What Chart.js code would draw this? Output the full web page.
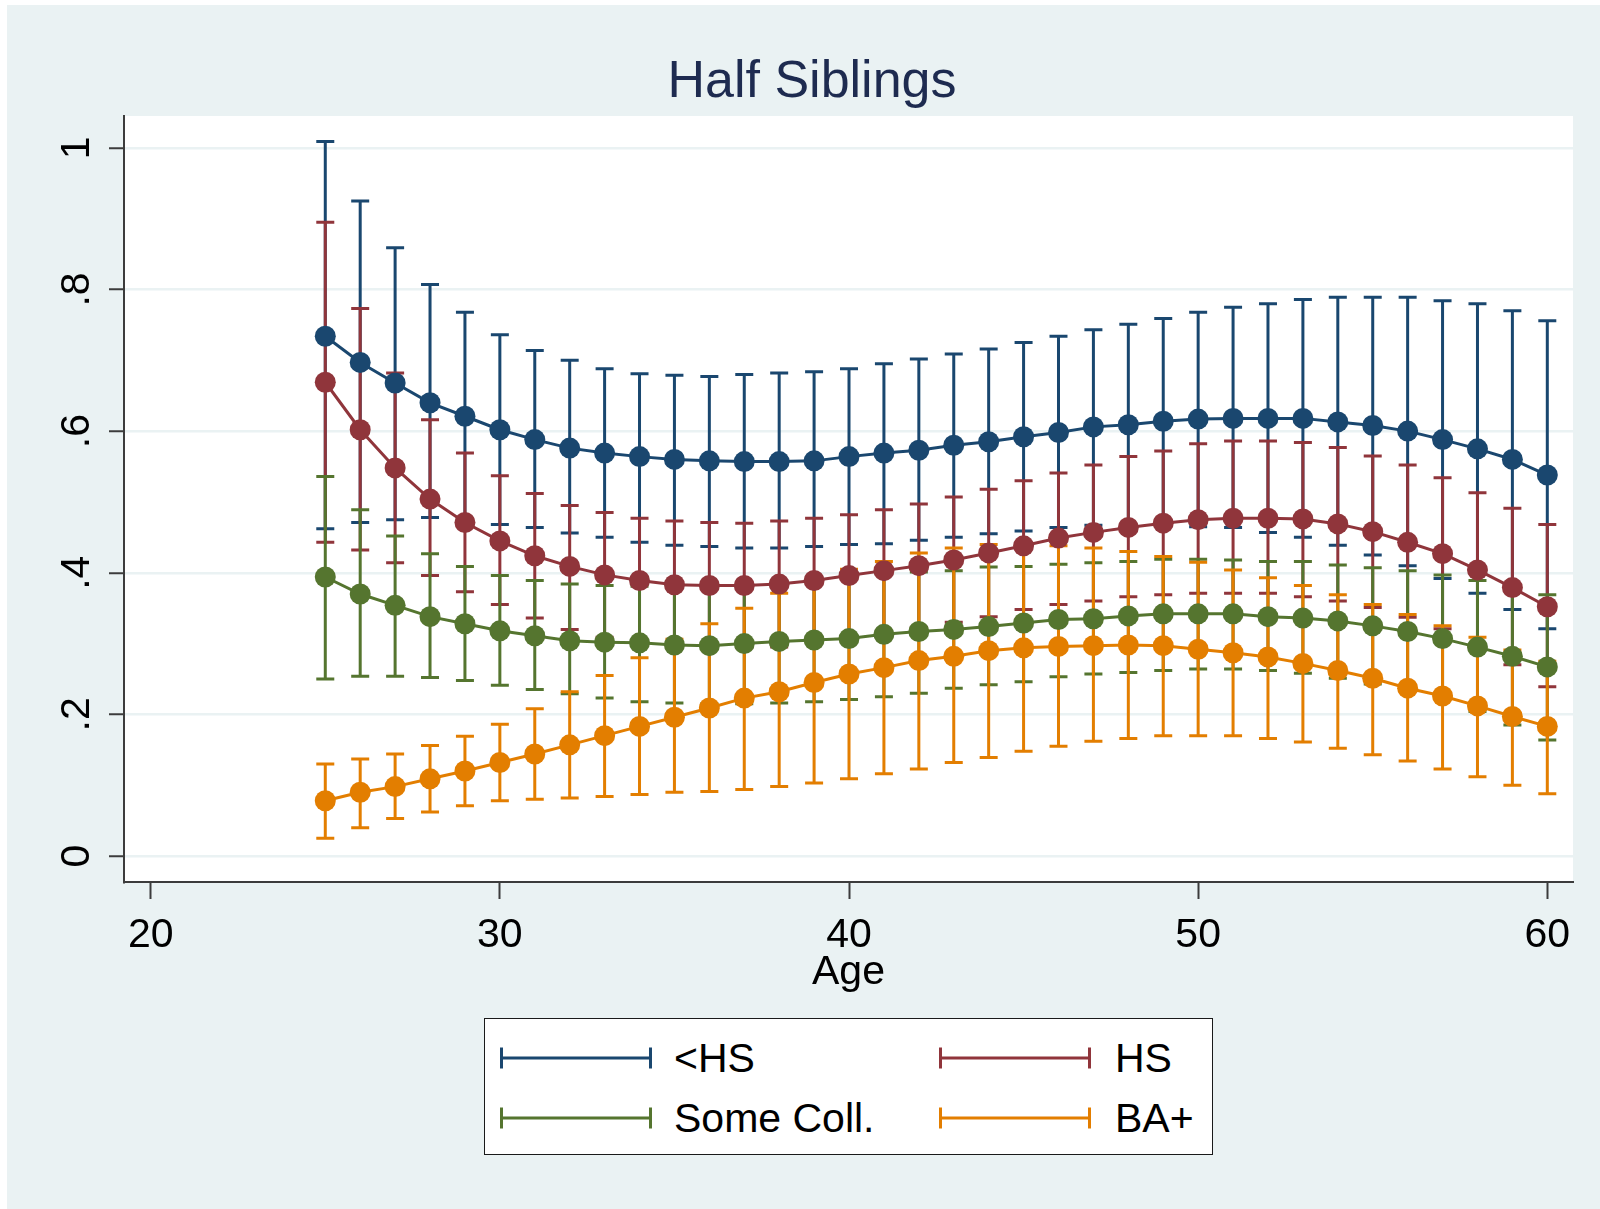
<!DOCTYPE html>
<html>
<head>
<meta charset="utf-8">
<title>Half Siblings</title>
<script src="https://cdn.jsdelivr.net/npm/chart.js"></script>
<style>
    body { margin: 0; background: #fff; }
    .wrap { position: relative; width: 1600px; height: 1209px; overflow: hidden; }
    #chart { position: absolute; left: 0; top: 0; }
    .legend-box {
        position: absolute; left: 484px; top: 1018px;
        width: 727px; height: 135px;
        background: #fff; border: 1.5px solid #1a1a1a;
    }
    .legend-sym { position: absolute; }
    .legend-text {
        position: absolute; font-family: "Liberation Sans", Arial, sans-serif;
        font-size: 41px; line-height: 41px; color: #000; white-space: nowrap;
    }
</style>
</head>
<body>
<div class="wrap">
    <canvas id="chart" width="1600" height="1209"></canvas>
    <div class="legend-box"></div>
    <div id="legend"></div>
</div>

<script>
    // ages 25..60
    const ages = [25, 26, 27, 28, 29, 30, 31, 32, 33, 34, 35, 36,
                  37, 38, 39, 40, 41, 42, 43, 44, 45, 46, 47, 48,
                  49, 50, 51, 52, 53, 54, 55, 56, 57, 58, 59, 60];

    // <HS
    const lessHS   = [.734,.697,.668,.640,.621,.602,.588,.576,.569,.564,.560,.558,
                      .557,.557,.558,.564,.569,.573,.580,.585,.592,.598,.606,.609,
                      .614,.617,.618,.618,.618,.613,.608,.600,.588,.575,.560,.538];
    const lessHSHi = [1.009,.925,.859,.807,.768,.736,.714,.700,.688,.681,.679,.677,
                      .680,.682,.684,.688,.695,.702,.709,.716,.725,.734,.743,.751,
                      .759,.768,.775,.780,.786,.789,.789,.789,.784,.780,.770,.756];
    const lessHSLo = [.462,.471,.475,.478,.473,.468,.464,.456,.450,.443,.439,.437,
                      .435,.435,.437,.440,.441,.446,.450,.455,.459,.464,.467,.467,
                      .466,.465,.464,.457,.450,.439,.425,.410,.392,.371,.348,.321];

    // HS
    const hs   = [.669,.602,.548,.504,.471,.445,.424,.409,.397,.389,.383,.382,
                  .382,.384,.389,.396,.403,.410,.418,.428,.438,.449,.457,.464,
                  .470,.475,.477,.477,.476,.469,.458,.443,.427,.404,.379,.352];
    const hsHi = [.895,.773,.682,.616,.569,.537,.512,.495,.485,.477,.473,.471,
                  .470,.473,.477,.482,.489,.497,.507,.518,.530,.541,.552,.564,
                  .572,.582,.586,.586,.584,.577,.565,.552,.534,.513,.491,.468];
    const hsLo = [.443,.432,.414,.396,.373,.355,.336,.320,.309,.301,.294,.293,
                  .294,.295,.301,.310,.317,.323,.330,.338,.348,.355,.360,.366,
                  .369,.371,.371,.371,.366,.360,.351,.337,.321,.297,.270,.239];

    // Some Coll.
    const someColl   = [.394,.370,.354,.338,.328,.318,.311,.304,.302,.301,.298,.297,
                        .300,.303,.305,.307,.313,.317,.320,.324,.329,.334,.335,.339,
                        .342,.342,.342,.338,.336,.332,.325,.317,.307,.295,.282,.267];
    const someCollHi = [.536,.489,.452,.427,.409,.396,.389,.384,.382,.381,.381,.381,
                        .382,.384,.388,.393,.398,.401,.403,.408,.409,.412,.414,.416,
                        .419,.419,.418,.416,.416,.411,.407,.403,.397,.389,.378,.369];
    const someCollLo = [.250,.254,.254,.252,.248,.241,.235,.229,.223,.218,.216,.215,
                        .215,.216,.218,.221,.225,.230,.237,.242,.246,.253,.257,.259,
                        .262,.264,.264,.262,.258,.251,.243,.235,.223,.204,.185,.164];

    // BA+
    const ba   = [.078,.090,.098,.109,.120,.132,.144,.157,.170,.183,.196,.209,
                  .223,.232,.245,.257,.266,.276,.282,.290,.294,.296,.297,.298,
                  .297,.292,.287,.281,.272,.262,.251,.237,.226,.212,.197,.183];
    const baHi = [.130,.137,.144,.156,.169,.186,.208,.232,.255,.280,.306,.328,
                  .350,.371,.388,.405,.416,.428,.435,.440,.440,.438,.435,.430,
                  .423,.415,.404,.393,.382,.369,.355,.341,.325,.309,.291,.275];
    const baLo = [.025,.040,.053,.062,.071,.078,.080,.082,.084,.087,.090,.091,
                  .094,.098,.103,.109,.116,.123,.132,.139,.148,.155,.162,.166,
                  .170,.170,.170,.166,.161,.152,.143,.134,.123,.112,.100,.088];

    const xTicks = [20, 30, 40, 50, 60];
    const yTicks = [0, 0.2, 0.4, 0.6, 0.8, 1];
    const yTickLabels = ['0', '.2', '.4', '.6', '.8', '1'];

    const series = [
        { name: '<HS',        color: '#1a476f', mid: lessHS,   hi: lessHSHi,   lo: lessHSLo },
        { name: 'HS',         color: '#90353b', mid: hs,       hi: hsHi,       lo: hsLo },
        { name: 'Some Coll.', color: '#55752f', mid: someColl, hi: someCollHi, lo: someCollLo },
        { name: 'BA+',        color: '#e37e00', mid: ba,       hi: baHi,       lo: baLo }
    ];

    const fontFamily = '"Liberation Sans", Arial, sans-serif';

    // background, capped error bars, title and axis title
    const stataDecor = {
        id: 'stataDecor',
        beforeDraw: (chart) => {
            const ctx = chart.ctx;
            const a = chart.chartArea;
            ctx.save();
            ctx.fillStyle = '#ffffff';
            ctx.fillRect(0, 0, chart.width, chart.height);
            ctx.fillStyle = '#eaf2f3';
            ctx.fillRect(7, 5, chart.width - 7, chart.height - 5);
            ctx.fillStyle = '#ffffff';
            ctx.fillRect(a.left, a.top, a.right - a.left, a.bottom - a.top);
            ctx.restore();
        },
        beforeDatasetsDraw: (chart) => {
            const ctx = chart.ctx;
            const x = chart.scales.x;
            const y = chart.scales.y;
            ctx.save();
            ctx.lineWidth = 3;
            ctx.lineCap = 'butt';
            series.forEach(s => {
                ctx.strokeStyle = s.color;
                ages.forEach((age, i) => {
                    const px = x.getPixelForValue(age);
                    const top = y.getPixelForValue(s.hi[i]);
                    const bot = y.getPixelForValue(s.lo[i]);
                    ctx.beginPath();
                    ctx.moveTo(px, top);
                    ctx.lineTo(px, bot);
                    ctx.moveTo(px - 9, top);
                    ctx.lineTo(px + 9, top);
                    ctx.moveTo(px - 9, bot);
                    ctx.lineTo(px + 9, bot);
                    ctx.stroke();
                });
            });
            ctx.restore();
        },
        afterDraw: (chart) => {
            const ctx = chart.ctx;
            const a = chart.chartArea;
            ctx.save();
            ctx.textAlign = 'center';
            ctx.textBaseline = 'alphabetic';
            ctx.fillStyle = '#1e2b50';
            ctx.font = '52px ' + fontFamily;
            ctx.fillText('Half Siblings', 812, 97);
            ctx.fillStyle = '#000000';
            ctx.font = '41px ' + fontFamily;
            ctx.fillText('Age', (a.left + a.right) / 2, 984);
            ctx.restore();
        }
    };

    const ctx = document.getElementById('chart').getContext('2d');

    new Chart(ctx, {
        type: 'line',
        data: {
            datasets: series.map((s, k) => ({
                label: s.name,
                data: ages.map((age, i) => ({ x: age, y: s.mid[i] })),
                borderColor: s.color,
                backgroundColor: s.color,
                pointBackgroundColor: s.color,
                pointBorderWidth: 0,
                pointRadius: 10.5,
                borderWidth: 3,
                tension: 0,
                fill: false,
                order: series.length - 1 - k
            }))
        },
        options: {
            responsive: false,
            devicePixelRatio: 1,
            animation: false,
            events: [],
            layout: {
                padding: { left: 0, right: 27, top: 116, bottom: 217 }
            },
            scales: {
                x: {
                    type: 'linear',
                    min: 19.235,
                    max: 60.736,
                    afterBuildTicks: (scale) => {
                        scale.ticks = xTicks.map(v => ({ value: v }));
                    },
                    afterFit: (scale) => { scale.height = 110; },
                    grid: {
                        drawOnChartArea: false,
                        drawTicks: true,
                        tickLength: 17,
                        tickWidth: 2,
                        tickColor: '#3c3c3c'
                    },
                    border: { display: true, color: '#3c3c3c', width: 2 },
                    ticks: {
                        autoSkip: false,
                        maxRotation: 0,
                        padding: 12,
                        color: '#000000',
                        font: { family: fontFamily, size: 41 }
                    }
                },
                y: {
                    type: 'linear',
                    min: -0.0367,
                    max: 1.045,
                    afterBuildTicks: (scale) => {
                        scale.ticks = yTicks.map(v => ({ value: v }));
                    },
                    afterFit: (scale) => { scale.width = 124; },
                    grid: {
                        color: '#eaf2f3',
                        lineWidth: 2.5,
                        drawTicks: true,
                        tickLength: 15,
                        tickWidth: 2,
                        tickColor: '#3c3c3c'
                    },
                    border: { display: true, color: '#3c3c3c', width: 2 },
                    ticks: {
                        autoSkip: false,
                        minRotation: 90,
                        maxRotation: 90,
                        crossAlign: 'center',
                        padding: 14,
                        color: '#000000',
                        font: { family: fontFamily, size: 41 },
                        callback: (value, index) => yTickLabels[index]
                    }
                }
            },
            plugins: {
                legend: { display: false },
                tooltip: { enabled: false },
                title: { display: false }
            }
        },
        plugins: [stataDecor]
    });

    // legend: two columns of capped-line symbols with labels
    const legendEl = document.getElementById('legend');
    const symLeft = [500, 939];
    const textLeft = [674, 1115];
    const rowMid = [1058, 1118];
    series.forEach((s, k) => {
        const col = k % 2;
        const row = Math.floor(k / 2);
        const sym = document.createElementNS('http://www.w3.org/2000/svg', 'svg');
        sym.setAttribute('class', 'legend-sym');
        sym.setAttribute('width', '152');
        sym.setAttribute('height', '24');
        sym.style.left = symLeft[col] + 'px';
        sym.style.top = (rowMid[row] - 12) + 'px';
        sym.innerHTML =
            '<line x1="1.5" y1="12" x2="150.5" y2="12" stroke="' + s.color + '" stroke-width="3"/>' +
            '<line x1="1.5" y1="1.5" x2="1.5" y2="22.5" stroke="' + s.color + '" stroke-width="3"/>' +
            '<line x1="150.5" y1="1.5" x2="150.5" y2="22.5" stroke="' + s.color + '" stroke-width="3"/>';
        legendEl.appendChild(sym);

        const txt = document.createElement('div');
        txt.className = 'legend-text';
        txt.style.left = textLeft[col] + 'px';
        txt.style.top = (rowMid[row] - 20) + 'px';
        txt.textContent = s.name;
        legendEl.appendChild(txt);
    });
</script>
</body>
</html>
